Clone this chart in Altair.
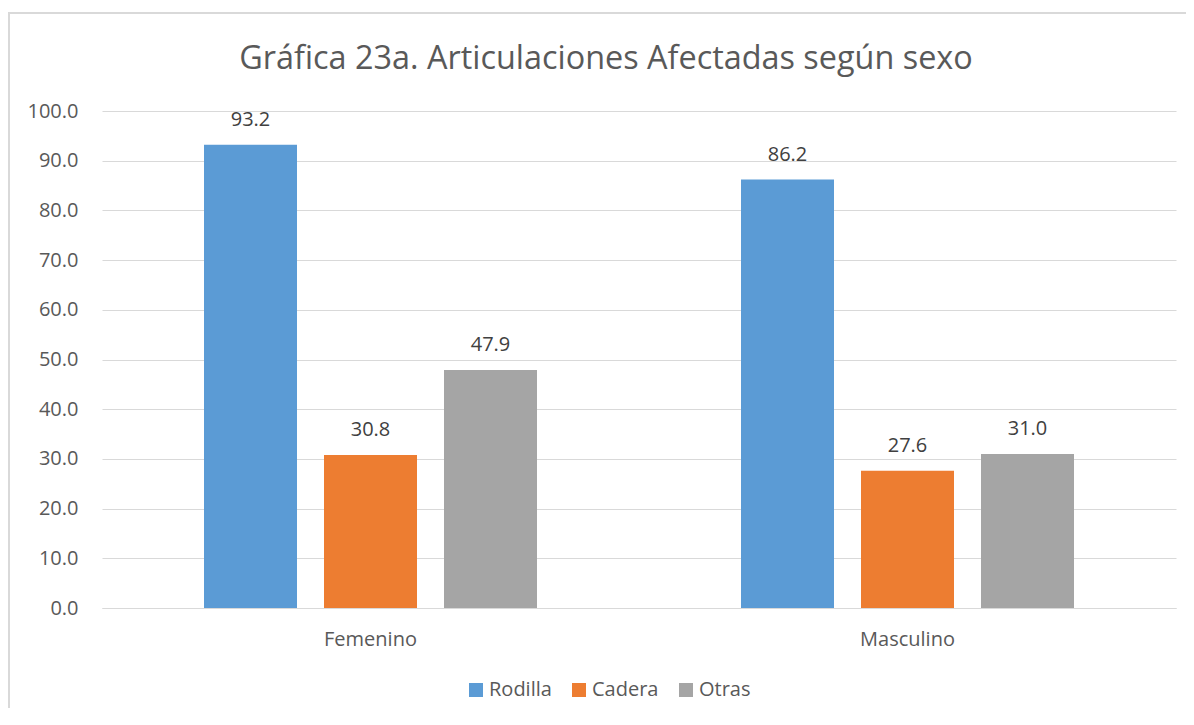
import altair as alt
import pandas as pd

sexos = ["Femenino", "Masculino"]
articulaciones = ["Rodilla", "Cadera", "Otras"]
rodilla = [93.2, 86.2]
cadera = [30.8, 27.6]
otras = [47.9, 31.0]
colores = ["#5B9BD5", "#ED7D31", "#A5A5A5"]

rows = []
for i, s in enumerate(sexos):
    for a, vals in zip(articulaciones, [rodilla, cadera, otras]):
        rows.append({"sexo": s, "art": a, "valor": vals[i]})
df = pd.DataFrame(rows)

FONT = "Open Sans"
W, H = 1074, 497
FS = 20

x = alt.X("sexo:N", sort=sexos, title=None,
          scale=alt.Scale(paddingInner=0, paddingOuter=0),
          axis=alt.Axis(labelAngle=0, labelFontSize=FS, labelColor="#595959",
                        labelFont=FONT, ticks=False, domainColor="#D9D9D9",
                        labelPadding=21))
xo = alt.XOffset("art:N", sort=articulaciones,
                 scale=alt.Scale(paddingInner=0.225, paddingOuter=0.85))
y = alt.Y("valor:Q", title=None,
          scale=alt.Scale(domain=[0, 100], nice=False),
          axis=alt.Axis(values=list(range(0, 101, 10)), format=".1f",
                        labelFontSize=FS, labelColor="#595959", labelFont=FONT,
                        ticks=False, domain=False, gridColor="#D9D9D9",
                        labelPadding=24))

bars = alt.Chart(df).mark_bar().encode(
    x=x, xOffset=xo, y=y,
    color=alt.Color("art:N", sort=articulaciones,
                    scale=alt.Scale(domain=articulaciones, range=colores),
                    legend=alt.Legend(title=None, orient="none", direction="horizontal",
                                      legendX=364, legendY=569,
                                      symbolType="square", symbolSize=196,
                                      symbolStrokeWidth=0,
                                      labelFontSize=FS, labelColor="#595959",
                                      labelFont=FONT, columnPadding=17,
                                      labelOffset=3)),
)

labels = alt.Chart(df).mark_text(dy=-19, fontSize=FS, color="#404040",
                                 font=FONT, baseline="alphabetic").encode(
    x=alt.X("sexo:N", sort=sexos), xOffset=alt.XOffset("art:N", sort=articulaciones),
    y="valor:Q", text=alt.Text("valor:Q", format=".1f"),
)

frame = alt.Chart(df).mark_rect(fill=None, stroke="#D9D9D9", strokeWidth=1.5).encode(
    x=alt.value(-93), x2=alt.value(W + 40), y=alt.value(-98), y2=alt.value(H + 200)
)

chart = alt.layer(frame, bars, labels).properties(
    width=W, height=H,
    title=alt.TitleParams("Gráfica 23a. Articulaciones Afectadas según sexo",
                          fontSize=32.4, font=FONT, color="#595959", frame="group",
                          fontWeight="normal", anchor="middle", dx=-33,
                          offset=0, dy=89, baseline="alphabetic"),
    autosize=alt.AutoSizeParams(type="none"),
    padding={"left": 94, "top": 103, "right": 10, "bottom": 100},
).configure_view(stroke=None)

chart.save("out.html", embed_options={"renderer": "svg", "actions": False})
